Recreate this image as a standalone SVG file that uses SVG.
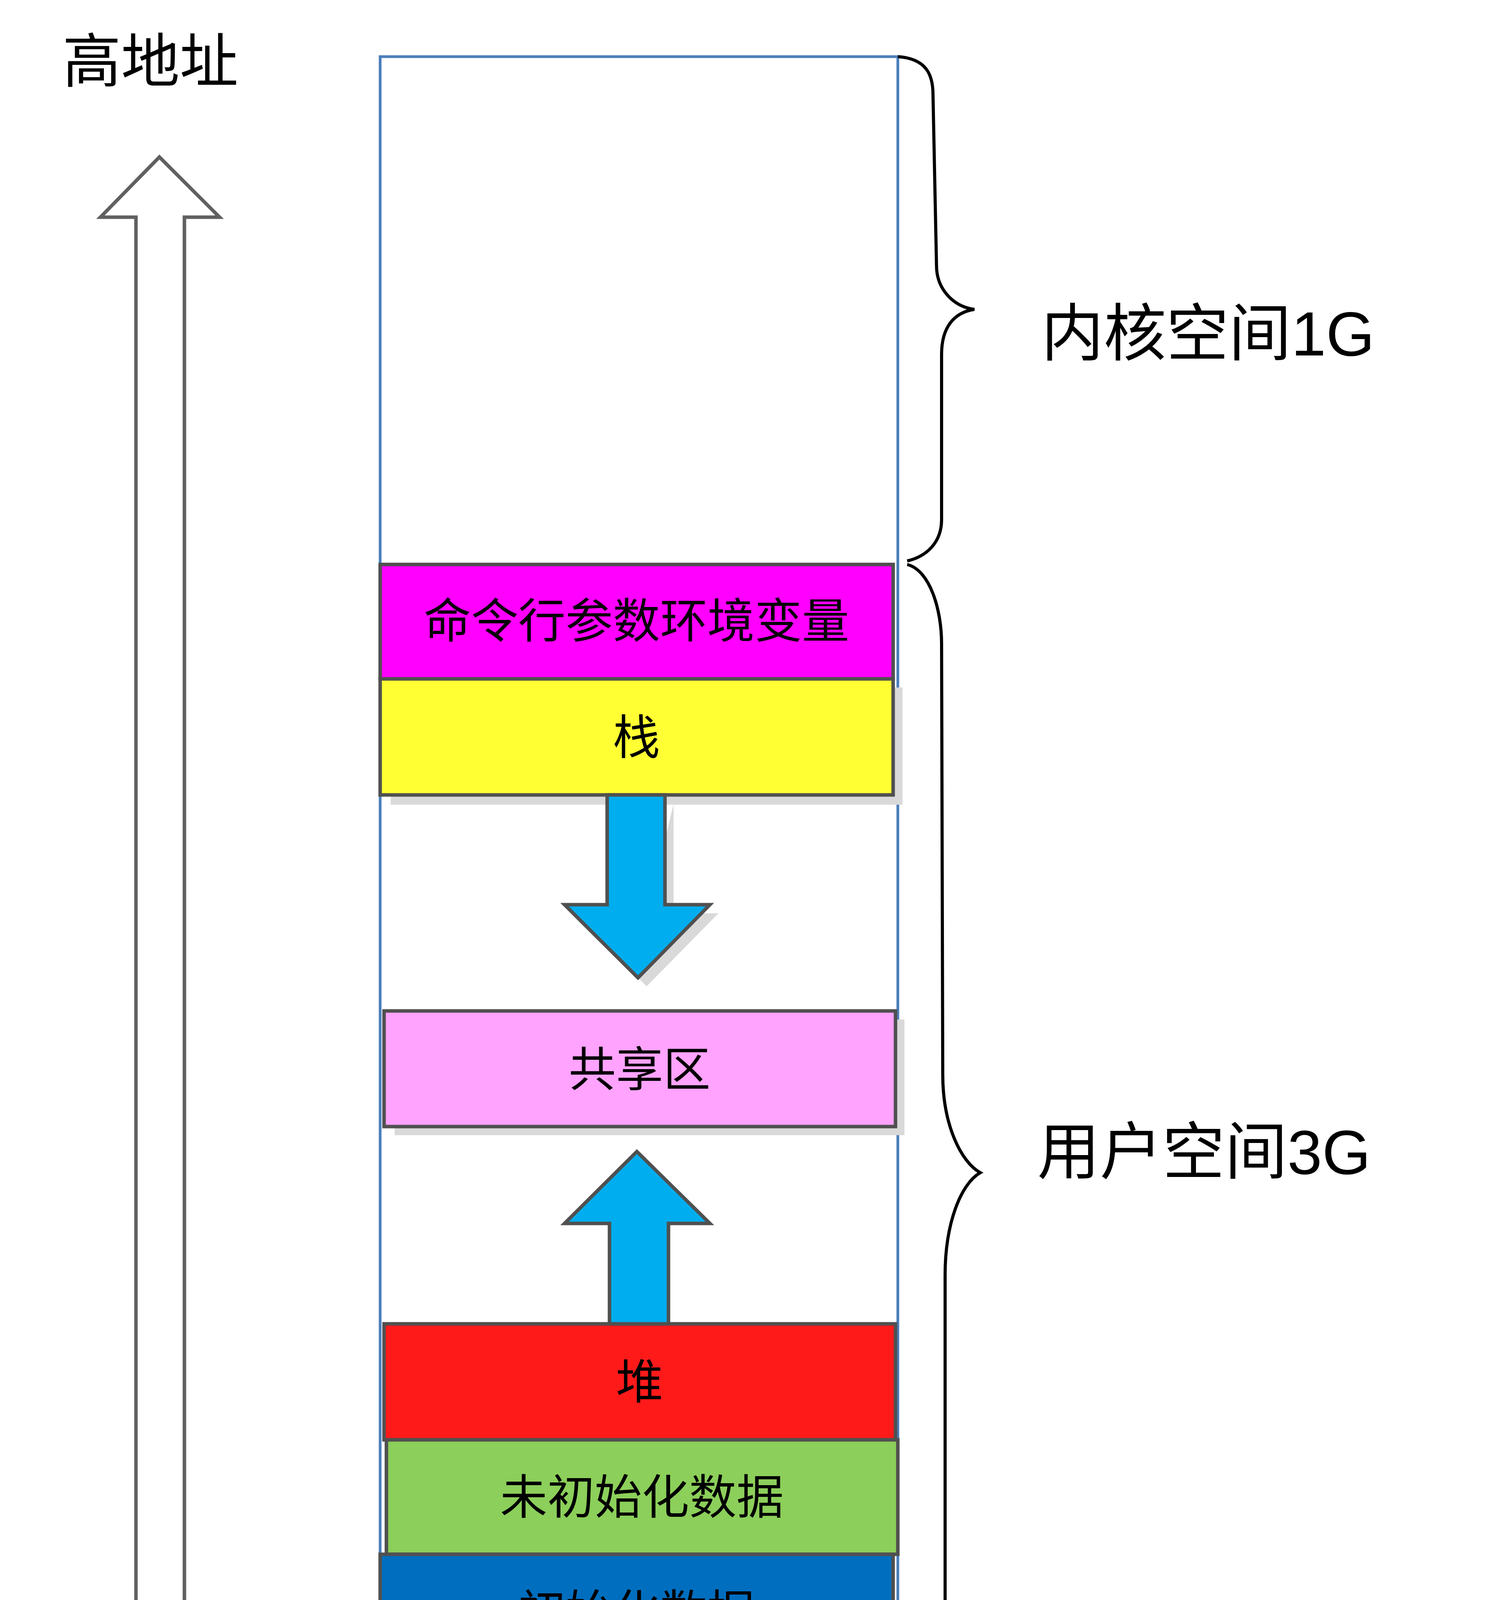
<svg xmlns="http://www.w3.org/2000/svg" width="3870" height="4744" viewBox="0 0 3870 4744">
<style>
.t{font-family:"Liberation Sans","Noto Sans CJK SC",sans-serif;fill:#000}
.bx{stroke:#505050;stroke-width:9}
.sh{fill:#d9d9d9}
.ar{fill:#00AEEF;stroke:#505050;stroke-width:9;stroke-linejoin:miter}
.br{fill:none;stroke:#000;stroke-width:8}
</style>
<rect width="3870" height="4744" fill="#fff"/>
<g id="outer"><rect x="973" y="145" width="1325" height="4426" fill="none" stroke="#4A7EBB" stroke-width="7"/></g>
<g id="addr-arrow"><polygon points="408,402 562,556 472,556 472,4275 348,4275 348,556 257,556" fill="#fff" stroke="#606060" stroke-width="9"/></g>
<g id="labels">
<text class="t" x="160" y="210" font-size="150">高地址</text>
<text class="t" x="150" y="4630" font-size="150">低地址</text>
<text class="t" x="2665" y="910" font-size="160">内核空间1G</text>
<text class="t" x="2655" y="3005" font-size="160">用户空间3G</text>
</g>
<g id="boxes">
<g id="b1"><rect class="bx" x="973" y="1445" width="1313" height="293" fill="#FF00FF"/><text class="t" x="1629" y="1632" font-size="121" text-anchor="middle">命令行参数环境变量</text></g>
<g id="b2"><rect class="sh" x="1000" y="1760" width="1310" height="300"/><rect class="bx" x="973" y="1738" width="1313" height="297" fill="#FFFF33"/><text class="t" x="1629" y="1930" font-size="121" text-anchor="middle">栈</text></g>
<g id="b3"><rect class="sh" x="1010" y="2610" width="1305" height="296"/><rect class="bx" x="983" y="2588" width="1309" height="296" fill="#FFA3FF"/><text class="t" x="1637" y="2780" font-size="121" text-anchor="middle">共享区</text></g>
<g id="b4"><rect class="bx" x="983" y="3389" width="1309" height="297" fill="#FF1A1A"/><text class="t" x="1637" y="3580" font-size="121" text-anchor="middle">堆</text></g>
<g id="b5"><rect class="bx" x="989" y="3686" width="1309" height="293" fill="#8CCF5A"/><text class="t" x="1643" y="3875" font-size="121" text-anchor="middle">未初始化数据</text></g>
<g id="b6"><rect class="bx" x="973" y="3979" width="1313" height="296" fill="#006EBF"/><text class="t" x="1629" y="4170" font-size="121" text-anchor="middle">初始化数据</text></g>
<g id="b7"><rect class="sh" x="1008" y="4297" width="1308" height="290"/><rect class="bx" x="983" y="4275" width="1309" height="290" fill="#8CCF5A"/><text class="t" x="1637" y="4463" font-size="121" text-anchor="middle">正文代码</text></g>
</g>
<g id="connectors">
<polygon points="1724,2058 1724,2338 1839,2338 1655,2525 1620,2490" class="sh"/>
<polygon class="ar" points="1554,2035 1702,2035 1702,2316 1817,2316 1633,2503 1445,2316 1554,2316"/>
<polygon class="ar" points="1630,2948 1817,3132 1711,3132 1711,3389 1560,3389 1560,3132 1445,3132"/>
<path class="br" d="M2298,145 C2370,150 2388,190 2388,242 L2397,680 C2397,740 2440,785 2494,792 C2440,800 2410,840 2410,907 L2410,1330 C2410,1390 2370,1425 2322,1436"/>
<path class="br" d="M2322,1445 C2380,1460 2410,1560 2410,1648 L2413,2751 C2413,2880 2460,2975 2509,3002 C2460,3030 2419,3130 2419,3265 L2419,4353 C2419,4460 2380,4540 2334,4559"/>
</g>
</svg>
